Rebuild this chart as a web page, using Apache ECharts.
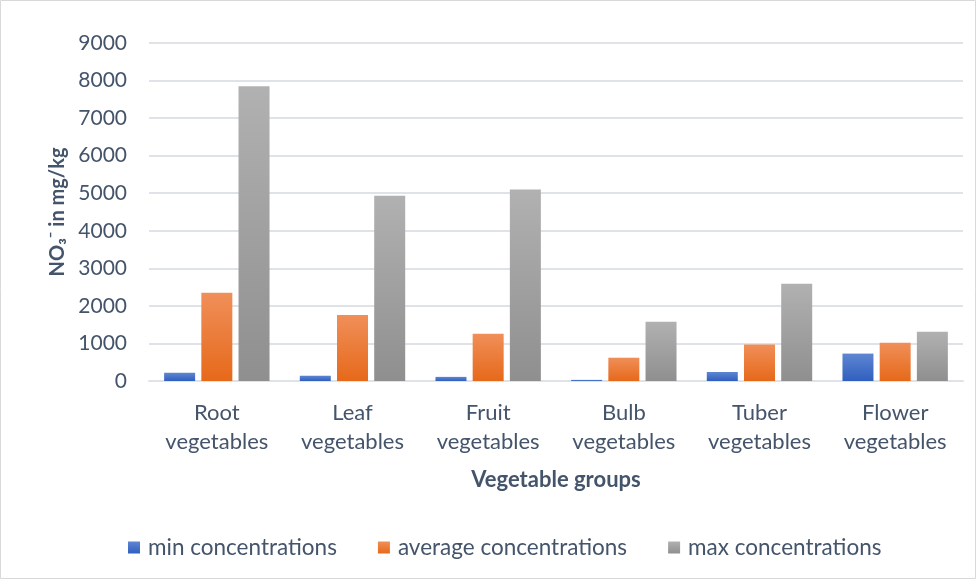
<!DOCTYPE html>
<html><head><meta charset="utf-8">
<script src="https://cdn.jsdelivr.net/npm/echarts@6/dist/echarts.min.js"></script>
<style>html,body{margin:0;padding:0;background:#fff}#c{width:976px;height:579px}</style>
</head><body><div id="c"></div>
<script>
const categories = ['Root vegetables','Leaf vegetables','Fruit vegetables','Bulb vegetables','Tuber vegetables','Flower vegetables'];
const minValues = [220, 140, 110, 30, 240, 730];
const avgValues = [2350, 1760, 1260, 620, 970, 1020];
const maxValues = [7850, 4930, 5100, 1580, 2590, 1310];
const yTicks = {min: 0, max: 9000, interval: 1000};

const txt = '#44546a';
const font = 'Lato, "Open Sans", sans-serif';
function grad(top, bottom){
  return new echarts.graphic.LinearGradient(0,0,0,1,[{offset:0,color:top},{offset:1,color:bottom}]);
}
const chart = echarts.init(document.getElementById('c'));
chart.setOption({
  animation:false,
  backgroundColor:'#fff',
  graphic:[{type:'rect',shape:{x:0.5,y:0.5,width:975,height:578},style:{fill:'none',stroke:'#d9d9d9',lineWidth:1},silent:true}],
  grid:{left:149,right:13,top:43,bottom:198},
  legend:{
    bottom:15,left:123,itemWidth:12,itemHeight:12,itemGap:41,icon:'rect',
    textStyle:{color:txt,fontSize:22.5,fontFamily:font,padding:[0,0,0,3]},
    data:['min concentrations','average concentrations','max concentrations']
  },
  xAxis:{
    type:'category',data:categories,
    name:'Vegetable groups',nameLocation:'middle',nameGap:88,
    nameTextStyle:{color:txt,fontSize:22,fontWeight:'bold',fontFamily:font},
    axisLine:{lineStyle:{color:'#dfe3e8',width:2}},
    axisTick:{show:false},
    axisLabel:{color:txt,fontSize:22,fontFamily:font,lineHeight:29,margin:17,interval:0,
      formatter:v=>v.replace(' ','\n')}
  },
  yAxis:{
    type:'value',min:yTicks.min,max:yTicks.max,interval:yTicks.interval,
    name:'NO\u2083\u207B in mg/kg',nameLocation:'middle',nameGap:80,nameRotate:90,
    nameTextStyle:{color:txt,fontSize:20,fontWeight:'bold',fontFamily:font},
    axisLine:{show:false},axisTick:{show:false},
    splitLine:{lineStyle:{color:'#dfe3e8',width:2}},
    axisLabel:{color:txt,fontSize:21,fontFamily:font,margin:22,formatter:v=>String(v)}
  },
  series:[
    {name:'min concentrations',type:'bar',data:minValues,barWidth:31,barGap:'20%',
     itemStyle:{color:grad('#5f86d2','#2f5fbf')}},
    {name:'average concentrations',type:'bar',data:avgValues,barWidth:31,barGap:'20%',
     itemStyle:{color:grad('#f08f59','#e6691a')}},
    {name:'max concentrations',type:'bar',data:maxValues,barWidth:31,barGap:'20%',
     itemStyle:{color:grad('#b1b1b1','#8f8f8f')}}
  ]
});
</script></body></html>
